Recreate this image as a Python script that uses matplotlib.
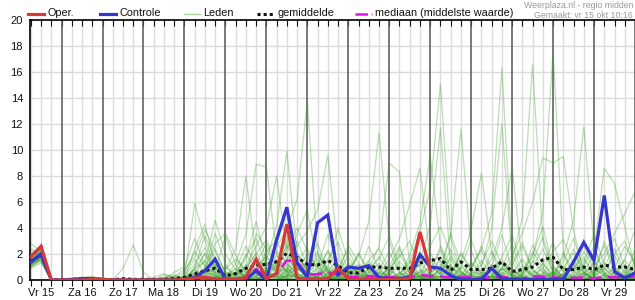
import numpy as np
import matplotlib
matplotlib.use("Agg")
import matplotlib.pyplot as plt
from matplotlib.lines import Line2D

plt.rcParams['font.family'] = ['Liberation Sans', 'DejaVu Sans']

# ---- data -------------------------------------------------------------
# 6-hourly steps, hours counted from Vr 15 00:00 (first step = 06:00)
hours = list(range(6, 361, 6))
day_labels = ["Vr 15", "Za 16", "Zo 17", "Ma 18", "Di 19", "Wo 20", "Do 21",
              "Vr 22", "Za 23", "Zo 24", "Ma 25", "Di 26", "Wo 27", "Do 28", "Vr 29"]
y_ticks = [0, 2, 4, 6, 8, 10, 12, 14, 16, 18, 20]

oper = [1.8, 2.6, 0, 0, 0, 0, 0.05, 0.05, 0, 0, 0, 0, 0, 0, 0, 0.05,
        0.15, 0.2, 0.1, 0.05, 0.05, 0.2, 1.6, 0.1, 0.5, 4.3, 0.1, 0.1,
        0.1, 0.1, 0.9, 0.1, 0.05, 0.05, 0.05, 0.05, 0.05, 0.15, 3.7, 0.75]

controle = [1.4, 2.0, 0, 0, 0.05, 0.1, 0.1, 0.05, 0, 0, 0, 0, 0, 0, 0, 0.05,
            0.2, 0.7, 1.6, 0.05, 0.05, 0.05, 0.7, 0.0, 3.1, 5.6, 1.3, 0.2,
            4.4, 5.0, 0.4, 1.0, 0.9, 1.1, 0.2, 0.1, 0.1, 0.25, 1.95, 1.0,
            0.9, 0.35, 0.05, 0.05, 0.05, 0.9, 0.1, 0.05, 0.05, 0.05, 0.05, 0.05,
            0.05, 1.4, 2.9, 1.5, 6.5, 0.65, 0.15, 0.55]

gemiddelde = [1.4, 1.95, 0.05, 0.02, 0.05, 0.1, 0.1, 0.05, 0.02, 0.1, 0.05, 0.05,
              0.05, 0.05, 0.1, 0.2, 0.45, 0.7, 0.9, 0.3, 0.5, 0.9, 1.15, 1.2,
              1.4, 2.05, 1.75, 1.2, 1.15, 1.5, 1.1, 0.55, 0.55, 1.0, 1.0, 0.9,
              0.9, 0.9, 1.3, 1.5, 1.65, 0.75, 1.4, 0.8, 0.8, 0.9, 1.4, 0.65,
              0.8, 1.0, 1.55, 1.75, 0.8, 0.8, 1.0, 0.8, 1.15, 1.0, 1.0, 0.8]

mediaan = [1.4, 1.9, 0, 0, 0, 0, 0, 0, 0, 0, 0, 0, 0, 0, 0, 0,
           0.05, 0.1, 0.15, 0.05, 0.05, 0.2, 0.85, 0.1, 0.5, 1.5, 1.4, 0.4,
           0.45, 0.6, 0.4, 0.2, 0.25, 0.3, 0.25, 0.2, 0.2, 0.2, 0.4, 0.3,
           0.25, 0.2, 0.2, 0.2, 0.15, 0.2, 0.25, 0.1, 0.1, 0.3, 0.25, 0.2,
           0.15, 0.15, 0.2, 0.1, 0.25, 0.2, 0.25, 0.25]

leden = [
    [1.2,1.8,0,0, 0,0.1,0.2,0, 0,0,0,0, 0,0,0.1,0.3, 1.2,2.5,0.8,0.2, 0.5,1.8,3.2,1.0, 2.5,4.0,6.2,13.8, 2.0,0.5,0.3,1.2, 0.4,0.1,0.8,2.2, 0.5,0.1,0,0.6, 1.5,0.3,0.1,0, 0.2,1.0,3.5,0.8, 0.1,0,0.5,1.8, 0.7,0.2,0,0.3, 1.1,2.4,0.6,0.2],
    [1.5,2.1,0,0, 0,0,0,0, 0,0,0,0.1, 0,0.2,0.4,0.1, 0.3,0.8,2.4,0.5, 0.1,0.6,1.2,2.8, 1.0,3.1,0.9,0.4, 0.2,1.6,2.9,0.7, 1.8,4.5,11.3,3.0, 0.6,0.1,0,0.2, 0.9,3.6,1.2,0.3, 0,0,0.4,1.1, 2.6,0.8,0.1,0, 0,0.6,2.2,0.9, 0.3,0,0.1,1.5],
    [1.0,1.6,0,0, 0,0,0.1,0, 0,0,0,0, 0,0,0,0.2, 0.6,0.2,0,0, 0.4,2.0,0.8,1.5, 4.2,9.9,2.1,0.6, 0.1,0,0.4,0.9, 0.2,0,0,0.3, 1.4,0.6,0.1,0, 0,0.4,2.0,0.8, 0.3,0,0,0.1, 0.5,1.9,4.1,1.0, 0.2,0,0,0.4, 3.0,0.9,0.2,0],
    [2.0,2.3,0,0, 0,0.2,0.1,0, 0,0,0,0, 0,0,0.2,0.6, 2.2,1.0,0.3,0, 0,0.5,1.4,0.6, 0.3,1.6,2.6,3.8, 5.4,9.6,2.1,0.4, 0.1,0.6,1.8,0.5, 0,0,0.3,2.1, 0.6,0.1,0,0, 0,0.8,1.6,0.3, 0,0,0,0.6, 1.4,3.2,0.8,0.1, 0,0.2,1.6,3.9],
    [1.7,2.0,0,0, 0,0,0,0, 0,0,0.1,0, 0,0,0,0, 0.2,0.9,0.6,0.2, 1.3,3.5,8.9,8.7, 2.0,0.6,0.2,0, 0.3,1.1,0.4,0, 0,0,0.2,1.0, 2.6,0.4,0,0.1, 0.3,1.2,0.2,0, 0,0,0,0.2, 0.9,0.3,0,0, 0,0,0.5,1.3, 0.4,0,0,0],
    [1.3,1.9,0,0, 0.1,0,0,0, 0,0,0,0, 0.2,0.5,0.1,0, 1.0,3.4,1.6,0.8, 2.4,8.0,1.8,0.3, 0.1,0.5,1.2,0.4, 0,0,0.2,0.5, 1.2,0.2,0,0, 0,0.3,1.6,0.4, 0,0,0.1,0.9, 2.3,0.5,0,0, 0,0.2,0.8,0.1, 0,0,0,0.2, 0.8,1.9,0.4,0],
    [1.1,1.5,0,0, 0,0,0,0.1, 0,0,0,0, 0,0,0,0, 0,0.1,0.5,1.0, 0.3,1.1,2.6,4.1, 8.0,2.2,0.5,0.1, 0,0.2,0.9,2.4, 0.6,0,0,0, 0,0.1,0.3,0.2, 1.8,0.5,0,0, 0,0.3,0,0, 0,0,1.2,2.9, 0.6,0.1,0,0, 0,0,0.3,0.9],
    [1.9,2.2,0,0, 0,0,0,0, 0,0.1,0,0, 0,0,0,0.1, 0.4,0.3,0.1,0, 0,0.2,0.6,0.2, 0.4,1.8,0.7,1.5, 2.8,0.6,0.1,0, 0,0.8,2.6,9.0, 8.3,1.2,0.2,0, 0,0,0.4,1.3, 0.4,0,0,0, 0.3,1.5,0.6,0, 2.1,0.7,0.1,0, 0,0.5,0.2,0],
    [1.4,1.7,0,0, 0,0,0,0, 0,0,0,0, 0,0,0.1,0, 0,0,0.2,0.4, 0.8,0.3,0,0.5, 1.1,0.4,0.2,0.6, 1.9,0.8,0.3,0, 0,0.3,0.6,0.2, 0.4,1.3,3.8,7.0, 15.1,3.2,0.6,0.1, 0,0.6,0.2,0, 0,0,0.3,0.7, 0.2,0,1.1,2.6, 0.5,0,0,0.2],
    [1.6,1.8,0,0, 0,0.1,0,0, 0,0,0,0, 0,0,0,0, 0.1,0.4,1.2,0.3, 0,0,0.3,1.4, 0.6,0.1,0,0.3, 0.9,2.2,0.6,0.1, 0,0,0.1,0.5, 2.0,0.6,1.5,4.2, 11.7,1.0,0.1,0, 0,0,0.9,2.8, 0.5,0,0,0, 0,0.4,1.6,0.3, 0.1,0,0.6,1.8],
    [1.2,1.6,0,0, 0,0,0,0, 0,0,0,0, 0,0.1,0.3,0.2, 0.8,0.2,0,0, 0,0.4,0.9,0.2, 0.5,2.8,1.0,0.2, 0.1,0,0,0.3, 1.1,0.4,0,0, 0,0.2,0.6,0.2, 0.8,3.4,11.6,2.3, 0.4,0,0,0.5, 1.6,0.4,0,0, 0,0,0.2,0.6, 0.9,0.2,0,0],
    [2.4,2.0,0,0, 0.1,0.2,0,0, 0,0,0,0, 0,0,0,0, 0,0.6,0.4,0.1, 0.2,1.2,0.5,0, 0,0.3,1.4,2.5, 0.6,0.1,0,0.4, 2.1,0.7,0.2,0.1, 0.3,1.9,4.4,9.6, 2.6,0.4,0.1,0, 0,0.2,1.4,0.5, 0,0,0,0.3, 0.9,2.4,0.6,0, 0,0.3,1.2,0.4],
    [1.0,1.4,0,0, 0,0,0,0, 0,0,0,0, 0,0,0,0.4, 1.6,0.5,0.1,0, 0,0,0.2,0.8, 1.9,0.7,0.1,0, 0.4,1.5,0.5,0.1, 0,0,0.5,1.6, 3.2,5.8,8.6,1.5, 0.4,0,0,0.2, 0.8,0.1,0,0, 0.4,2.2,0.9,0.1, 0,0,0,0.5, 1.3,0.4,0,0.1],
    [1.8,2.4,0,0, 0,0,0,0.1, 0,0,0,0, 0,0,0,0, 0.2,0.1,0,0.3, 0.9,0.2,0,0, 0.2,0.8,0.3,0.1, 0,0.4,1.2,0.3, 0.1,0,0.2,0.7, 0.2,0,0.1,0.5, 1.2,0.6,0.2,1.0, 2.4,5.1,16.3,2.0, 0.3,0,0,0.2, 0.4,1.0,0.2,0, 0,0,0.4,1.2],
    [1.5,1.9,0,0, 0,0,0,0, 0,0,0,0, 0,0,0,0.1, 0.5,1.5,0.4,0, 0,0.1,0.6,1.9, 0.7,0.2,0,0.5, 1.3,0.2,0,0, 0.3,1.4,0.5,0, 0,0.3,0.8,0.2, 0,0.1,0.9,3.1, 1.0,3.9,12.0,1.4, 0.2,0,0.6,0.3, 0,0,0.2,0.8, 2.7,0.6,0,0],
    [1.3,2.2,0,0, 0,0,0,0, 0,0,0,0, 0,0,0,0, 0.1,0.2,0.1,0, 0,0.3,0.8,0.3, 1.5,0.6,2.0,0.8, 0.2,0,0.1,0.6, 0.8,0.2,0,0, 0,0,0.2,1.1, 0.4,0.1,0,0, 0.3,0.9,0.4,1.6, 4.8,16.6,3.0,0.5, 0.1,0,0,0.3, 0.9,0.2,0,0.4],
    [1.7,2.1,0,0, 0,0,0,0, 0,0,0,0, 0,0,0.2,0, 0.9,2.0,0.6,0.1, 0,0,0.1,0.2, 0.3,1.2,0.5,0.1, 0,0,0.6,1.8, 0.4,0,0,0.1, 0.3,0.8,0.2,0, 0,0.2,1.0,0.3, 0,0,0.1,0.5, 0.6,1.8,5.2,17.7, 2.0,0.3,0,0, 0,0.1,0.8,0.2],
    [2.8,2.2,0,0, 0,0,0,0, 0,0,0,0, 0,0,0,0.2, 0.3,0,0,0, 0.1,0.8,2.1,0.7, 0.2,0,0.4,1.3, 0.6,0.1,0,0, 0,0.5,1.3,0.4, 0.1,0,0,0.3, 0.7,1.6,0.4,0, 0,0,0.3,0.9, 0.2,0,0,0.4, 1.8,4.6,11.8,2.5, 0.3,0,0,0.1],
    [1.1,1.7,0,0, 0,0,0,0, 0,0,0,0, 0,0,0,0, 0,0.3,0.9,0.4, 0.1,0,0.4,1.0, 2.2,1.3,0.4,0, 0,0.3,0.1,0, 0.2,0.9,0.3,0, 0,0.4,1.2,0.5, 0.2,0,0,0.4, 1.5,0.3,0,0, 0,0.5,1.3,0.4, 0.1,0,0.4,2.2, 8.6,7.4,4.1,1.0],
    [1.4,1.5,0,0, 0,0,0,0, 0,0,0,0, 0,0,0,0.1, 0.3,0.7,0.2,0, 0,0,0,0.3, 0.6,0.9,0.3,0, 0.1,0.4,0.8,0.2, 0,0.2,0.1,0, 0.6,0.2,0,0, 0.3,1.0,0.5,0.1, 0,0.2,0.8,1.9, 3.6,6.0,9.4,9.0, 9.5,3.8,0.6,0, 0,0,0.2,0.5],
    [2.2,2.3,0,0, 0,0,0,0, 0,0,0,0, 0,0.2,0.1,0.2, 5.9,3.0,1.0,0.2, 0,0.4,1.6,0.5, 0.2,0,0.6,2.0, 0.9,0.3,0,0, 0.5,2.6,0.8,0.2, 0,0,0.1,0.4, 0.2,0,0,0.5, 0.3,1.2,0.4,0, 0,0,0.2,0.6, 0.3,0,0,0.1, 0.4,1.0,0.3,0],
    [1.6,2.0,0,0, 0,0,0,0, 0,0.9,2.7,0.6, 0,0,0,0, 0,0.1,0.3,0.8, 1.6,0.7,0.2,0, 0,0.3,0.9,0.3, 0,0,0.3,0.9, 0.2,0,0,0.4, 1.0,0.3,0,0, 0,0.6,0.3,0.1, 0,0,0.2,0.7, 0.3,0.1,0,0, 0.5,1.5,0.5,0, 0,0,0,0.3],
    [1.3,1.8,0,0, 0,0,0,0, 0,0,0,0, 0,0,0,0, 0.7,0.4,0,0, 0,0.9,0.4,0.1, 0.3,0.2,1.0,0.6, 0.2,0.8,0.2,0, 0,0.1,0.6,0.3, 0,0.2,0.6,0.9, 2.3,0.6,1.4,3.9, 8.2,2.1,0.3,0, 0,0,0.4,1.1, 0.2,0,0,0, 0.2,0.6,1.5,0.6],
    [1.9,2.0,0,0, 0,0.1,0,0, 0,0,0,0, 0,0,0.1,0, 0.1,0,0.2,0.6, 0.4,0,0,0.2, 1.2,2.6,0.9,0.2, 0,0,0.2,0.1, 0.9,0.2,0,0, 0.2,0.9,0.3,0.1, 0,0,0.3,0.6, 0.5,1.6,4.0,8.7, 1.2,0.2,0,0, 0,0.3,0.9,0.4, 0,0,0.1,0.4],
    [1.2,1.9,0,0, 0,0,0,0, 0,0,0,0, 0,0,0,0, 0,0,0.1,0.2, 0.6,0.2,0,0, 0,0.4,0.2,0.8, 1.6,0.5,0,0, 0.1,0.3,0.9,0.2, 0,0,0.4,0.1, 0.6,0.2,0,0, 0,0.4,0.9,0.3, 0,0.7,0.2,0, 0.4,0.8,2.6,1.1, 2.0,3.6,5.1,6.8],
    [1.5,2.0,0,0, 0,0,0,0, 0,0,0,0, 0,0,0,0, 2.4,4.3,1.1,0.2, 0,0.2,0.7,2.2, 3.1,1.0,0.2,0, 0,0.6,1.7,0.3, 0,0,0.3,0.9, 0.2,0,0,0, 0.5,2.4,0.7,0, 0,0,0.6,0.2, 1.0,0.3,0,0, 0,0.2,0.6,0, 0,0,0,0],
    [1.1,1.6,0,0, 0,0,0,0, 0,0,0,0, 0,0.1,0.6,1.0, 3.2,1.1,0.5,0.1, 0.3,1.6,4.5,1.3, 0.5,0.1,0,0.2, 0.5,0.2,0,0, 0,0.1,0,0.2, 0.5,1.5,0.3,0, 0,0,0.2,0.4, 0.1,0,0.9,0.3, 0,1.0,2.4,0.6, 0.1,0,0,0, 0.4,0.1,0,0],
    [2.0,2.1,0,0, 0,0.1,0.2,0, 0,0,0,0, 0,0,0,0.1, 0.5,0.9,3.6,1.2, 0.2,0,0.1,0.4, 1.6,0.4,0,0, 0.3,1.0,4.0,1.4, 0.2,0,0,0, 0,0,0.7,0.3, 0,0.2,0,0, 0.6,0.2,0,0.2, 0,0,0,0.2, 0.5,0.1,0,0.6, 0.1,0.3,0,0],
    [1.4,1.9,0,0, 0,0,0,0, 0,0,0,0, 0,0,0,0, 0,0,0,0.1, 0.2,0.1,0.3,0.6, 0,0.2,0.5,0.1, 0,0,0,0.2, 0.4,0.1,0,0, 0,0,0,0.2, 0.1,0.3,0,0, 0,0,0,0.2, 0.1,0,0,0, 0,0.1,0.2,0, 0,0,0.2,0.1],
    [1.8,2.2,0,0, 0,0,0,0, 0,0,0,0, 0,0,0,0, 0.1,0.2,0.7,3.4, 1.2,0.1,0,0, 0,0.8,3.6,5.4, 1.1,0.2,0,0.1, 0,0.3,0.2,0, 0.1,0.4,0.2,0, 0,0,0,0.3, 0.2,0,0,0, 0,0.3,0.4,0.2, 0,0,0.3,1.4, 0.6,0,0,0],
    [1.2,1.7,0,0, 0,0,0,0, 0,0,0,0, 0,0,0,0, 0,0,0,0, 0,0,0.2,0.1, 0.3,0.1,0,0, 0.2,0.5,0.1,0, 0,0,0.1,0, 0.2,0.1,0,0, 0,0,0.2,0, 0,0.3,0.1,0, 0,0,0,0.1, 0.2,0,0,0, 0,0.1,0,0],
    [1.6,2.1,0,0, 0,0,0,0, 0,0,0,0, 0,0,0,0, 0.2,0.6,0.3,0, 0,0,0.1,0.3, 0.9,3.4,1.2,0.3, 0,0,0.1,0.3, 0.6,0.1,0,0, 0,0,0,0.1, 0.2,0.1,0,0, 0,0.2,0.4,0.1, 0,0,0,0, 0,0.2,0.5,0.1, 0,0,0.3,0.6],
    [1.3,2.0,0,0, 0,0.2,0.3,0, 0,0,0,0, 0,0,0.3,0.8, 1.8,3.9,2.2,0.6, 0.3,1.0,2.0,3.1, 1.4,0.6,3.0,1.1, 0.4,2.3,1.0,0.2, 0.6,1.5,2.4,0.8, 0.2,0.6,2.1,1.0, 0.5,1.8,0.6,0.2, 1.2,3.0,1.1,0.4, 0.2,1.4,3.3,0.9, 0.3,0.9,1.8,0.4, 1.6,3.2,1.0,0.2],
    [1.7,2.3,0,0, 0,0,0,0, 0,0,0.1,0, 0,0.4,0.2,0, 0.9,1.4,4.6,2.0, 0.8,2.6,1.2,0.4, 2.8,5.0,1.4,0.9, 2.2,0.7,0.3,0.8, 2.0,0.6,0.2,0.9, 1.8,3.0,0.9,0.4, 2.6,1.0,0.3,1.4, 0.6,0.2,1.8,3.4, 1.1,0.4,0.9,2.2, 3.1,1.2,0.3,0.8, 0.4,2.0,3.0,1.1],
    [0.9,1.3,0,0, 0,0,0,0, 0,0,0,0, 0,0,0,0, 0.1,0.9,2.8,3.6, 1.9,0.5,0.9,1.8, 0.6,2.4,4.0,2.2, 1.0,3.5,1.2,0.3, 0.1,0.9,1.6,3.4, 1.1,0.2,1.3,2.6, 4.1,2.0,0.5,0.2, 0.3,2.2,0.7,1.3, 2.9,0.8,0.2,0.5, 1.0,0.2,1.3,3.5, 1.2,0.4,0.2,2.4],
    [1.5,1.8,0,0, 0,0,0.1,0, 0,0,0,0, 0,0,0,0.1, 0.4,2.1,0.9,0.2, 0.6,0.3,3.6,2.4, 0.9,0.3,1.8,0.7, 0.2,0.9,0.5,2.7, 1.3,0.2,0,0.6, 2.4,0.8,0.2,0.1, 0.9,0.3,2.1,0.8, 2.6,0.9,0.2,0.1, 0.4,2.7,1.2,0.3, 0.8,2.1,0.5,0.1, 0.2,0.9,2.6,1.4],
]

for k, m in enumerate(leden):
    assert len(m) == 60, (k, len(m))

# ---- style --------------------------------------------------------------
RED = '#d8383a'
BLUE = '#3535d0'
GREEN = '#2f9a1c'
MAGENTA = '#e010e8'

W, H = 635, 300
fig = plt.figure(figsize=(W / 100, H / 100), dpi=100)
ax = fig.add_axes([30 / W, 20 / H, 605 / W, 260 / H])

x_min, x_max = 5.5, 359.7
ax.set_xlim(x_min, x_max)
ax.set_ylim(0, 20)

# grid
for y in y_ticks[1:-1]:
    ax.axhline(y, color='#dcdcdc', lw=1.0, zorder=0)
for h in range(6, 361, 6):
    if h % 24 == 0:
        ax.axvline(h, color='#555555', lw=1.1, zorder=1)
    else:
        ax.axvline(h, color='#dcdcdc', lw=1.0, zorder=0)

# members
for m in leden:
    ax.plot(hours, m, color=GREEN, lw=0.9, alpha=0.32, zorder=2)

ax.plot(hours, mediaan, color=MAGENTA, lw=1.8, dashes=(5, 2.5), zorder=3)
ax.plot(hours, gemiddelde, color='#111111', lw=2.2, dashes=(1, 1), zorder=4)
ax.plot(hours, controle, color=BLUE, lw=2.3, zorder=5, solid_joinstyle='miter')
ax.plot(hours[:len(oper)], oper, color=RED, lw=2.3, zorder=6, solid_joinstyle='miter')

# axes / ticks
ax.set_yticks(y_ticks)
ax.set_yticklabels([str(v) for v in y_ticks])
ax.tick_params(axis='y', length=0, pad=5, labelsize=8, labelcolor='#111111')

ax.set_xticks(np.arange(12, 361, 24))
ax.set_xticklabels(day_labels)
ax.set_xticks(np.arange(6, 361, 6), minor=True)
ax.tick_params(axis='x', which='both', direction='out', length=4, width=0.8,
               pad=2, labelsize=8, labelcolor='#111111', color='#111111')

sec = ax.secondary_xaxis('top')
sec.set_xticks(np.arange(6, 361, 6))
sec.tick_params(direction='in', length=4, width=0.8, labeltop=False, color='#111111')
sec.spines['top'].set_visible(False)

for s in ['left', 'bottom', 'top']:
    ax.spines[s].set_color('#000000')
    ax.spines[s].set_linewidth(1.2)
ax.spines['right'].set_visible(False)

# ---- legend (top) ------------------------------------------------------
def fx(px):
    return px / W

def fy(py):
    return 1 - py / H

ly = 13.5
legend_items = [
    (28, 44, dict(color=RED, lw=2.3), 47, "Oper."),
    (100, 116, dict(color=BLUE, lw=2.3), 119, "Controle"),
    (184, 200, dict(color='#a8d49a', lw=1.0), 203, "Leden"),
    (257, 274, dict(color='#111111', lw=2.2, dashes=(1, 1)), 277, "gemiddelde"),
    (355, 372, dict(color=MAGENTA, lw=1.8, dashes=(5, 1.5, 1, 1.5)), 375, "mediaan (middelste waarde)"),
]
for x0, x1, style, tx, label in legend_items:
    fig.add_artist(Line2D([fx(x0), fx(x1)], [fy(ly), fy(ly)],
                          transform=fig.transFigure, **style))
    fig.text(fx(tx), fy(ly), label, fontsize=7.8, va='center', ha='left', color='#111111')

fig.text(fx(633), fy(5.5), "Weerplaza.nl - regio midden", fontsize=6.3,
         ha='right', va='center', color='#9a9a9a')
fig.text(fx(633), fy(15), "Gemaakt: vr 15 okt 10:16", fontsize=6.3,
         ha='right', va='center', color='#9a9a9a')

fig.savefig('out.png', dpi=100)
